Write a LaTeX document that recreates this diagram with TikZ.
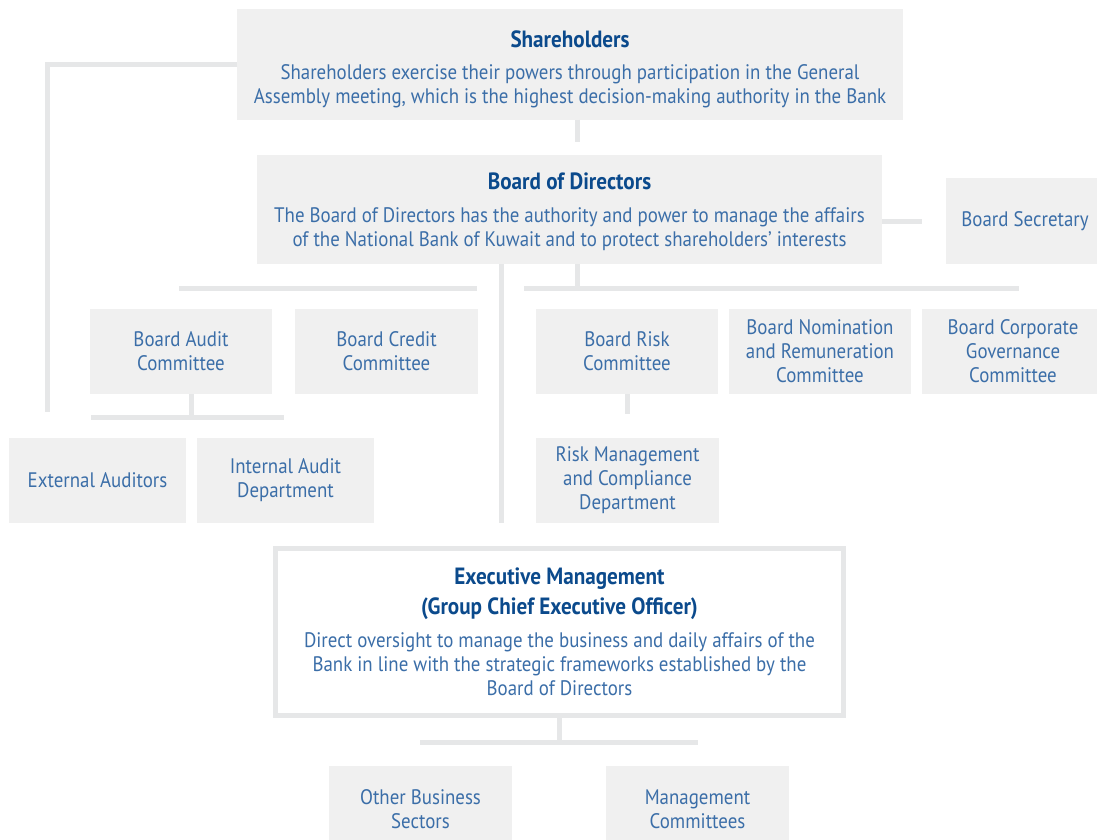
\documentclass[tikz,border=0pt]{standalone}
\usepackage{fontspec}
\setmainfont{PT Sans}[FakeStretch=0.9]
\definecolor{boxgray}{HTML}{F0F0F0}
\definecolor{linegray}{HTML}{E6E7E8}
\definecolor{bodyblue}{HTML}{3B6EA8}
\definecolor{titleblue}{HTML}{0B4A8C}
\newcommand\hd[1]{{\fontsize{23.5}{24}\selectfont\bfseries\color{titleblue}#1}}
% invisible strut that adds room above a heading line
\newcommand\headroom[1]{\rule{0pt}{#1}}
\begin{document}
\begin{tikzpicture}[x=1pt,y=-1pt,
  box/.style={fill=boxgray, inner sep=0pt, outer sep=0pt, align=center,
    text=bodyblue, font=\fontsize{21}{24}\selectfont},
  execbox/.style={box, fill=white, draw=linegray, line width=5pt, outer sep=2.5pt},
  conn/.style={draw=linegray, line width=5pt}]
\useasboundingbox (0,0) rectangle (1097,840);

% top level
\node[box, minimum width=666pt, minimum height=111pt] (sh) at (570,64.5)
  {\headroom{26pt}\hd{Shareholders}\\[8pt]Shareholders exercise their powers through participation in the General\\Assembly meeting, which is the highest decision-making authority in the Bank};
\node[box, minimum width=625pt, minimum height=109pt] (bod) at (569.5,209.5)
  {\headroom{22pt}\hd{Board of Directors}\\[9pt]The Board of Directors has the authority and power to manage the affairs\\of the National Bank of Kuwait and to protect shareholders’ interests};
\node[box, minimum width=158pt, minimum height=86pt] (sec) at (1025,221) {Board Secretary};

% board committees
\node[box, minimum width=182pt, minimum height=85pt] (audit) at (181,351.5) {Board Audit\\Committee};
\node[box, minimum width=183pt, minimum height=85pt] (credit) at (386.5,351.5) {Board Credit\\Committee};
\node[box, minimum width=182pt, minimum height=85pt] (risk) at (627,351.5) {Board Risk\\Committee};
\node[box, minimum width=182pt, minimum height=85pt] (nom) at (820,351.5) {Board Nomination\\and Remuneration\\Committee};
\node[box, minimum width=182pt, minimum height=85pt] (gov) at (1013,351.5) {Board Corporate\\Governance\\Committee};

% audit and risk functions
\node[box, minimum width=177pt, minimum height=85pt] (ext) at (97.5,480.5) {External Auditors};
\node[box, minimum width=177pt, minimum height=85pt] (int) at (285.5,480.5) {Internal Audit\\Department};
\node[box, minimum width=183pt, minimum height=85pt] (rmc) at (627.5,480.5) {Risk Management\\and Compliance\\Department};

% executive management
\node[execbox, minimum width=568pt, minimum height=166.7pt] (exec) at (559.5,631.85)
  {\hd{Executive Management}\\[6pt]\hd{(Group Chief Executive Officer)}\\[9pt]Direct oversight to manage the business and daily affairs of the\\Bank in line with the strategic frameworks established by the\\Board of Directors};
\node[box, minimum width=183pt, minimum height=86pt] (obs) at (420.5,809) {Other Business\\Sectors};
\node[box, minimum width=183pt, minimum height=86pt] (mc) at (697.5,809) {Management\\Committees};

% connector end points
\coordinate (extTop) at (47.5,412);
\coordinate (shStub) at (577,142);
\coordinate (secStub) at (922,221);
\coordinate (spine) at (501.5,523);
\coordinate (bodTap) at (577,288);
\coordinate (lBarL) at (179,288);
\coordinate (lBarR) at (477,288);
\coordinate (rBarL) at (524,288);
\coordinate (rBarR) at (1019,288);
\coordinate (audTap) at (191,417.5);
\coordinate (audBarL) at (91,417.5);
\coordinate (audBarR) at (284,417.5);
\coordinate (riskTap) at (627.5,414);
\coordinate (exTap) at (559,742.5);
\coordinate (exBarL) at (420,742.5);
\coordinate (exBarR) at (698,742.5);

% connectors
\draw[conn] (sh.west) -| (extTop);
\draw[conn] (sh.south -| shStub) -- (shStub);
\draw[conn] (bod.east |- secStub) -- (secStub);
\draw[conn] (bod.south -| spine) -- (spine);
\draw[conn] (bod.south -| bodTap) -- (bodTap);
\draw[conn] (lBarL) -- (lBarR);
\draw[conn] (rBarL) -- (rBarR);
\draw[conn] (audit.south -| audTap) -- (audTap);
\draw[conn] (audBarL) -- (audBarR);
\draw[conn] (risk.south -| riskTap) -- (riskTap);
\draw[conn] (exec.south -| exTap) -- (exTap);
\draw[conn] (exBarL) -- (exBarR);
\end{tikzpicture}
\end{document}
